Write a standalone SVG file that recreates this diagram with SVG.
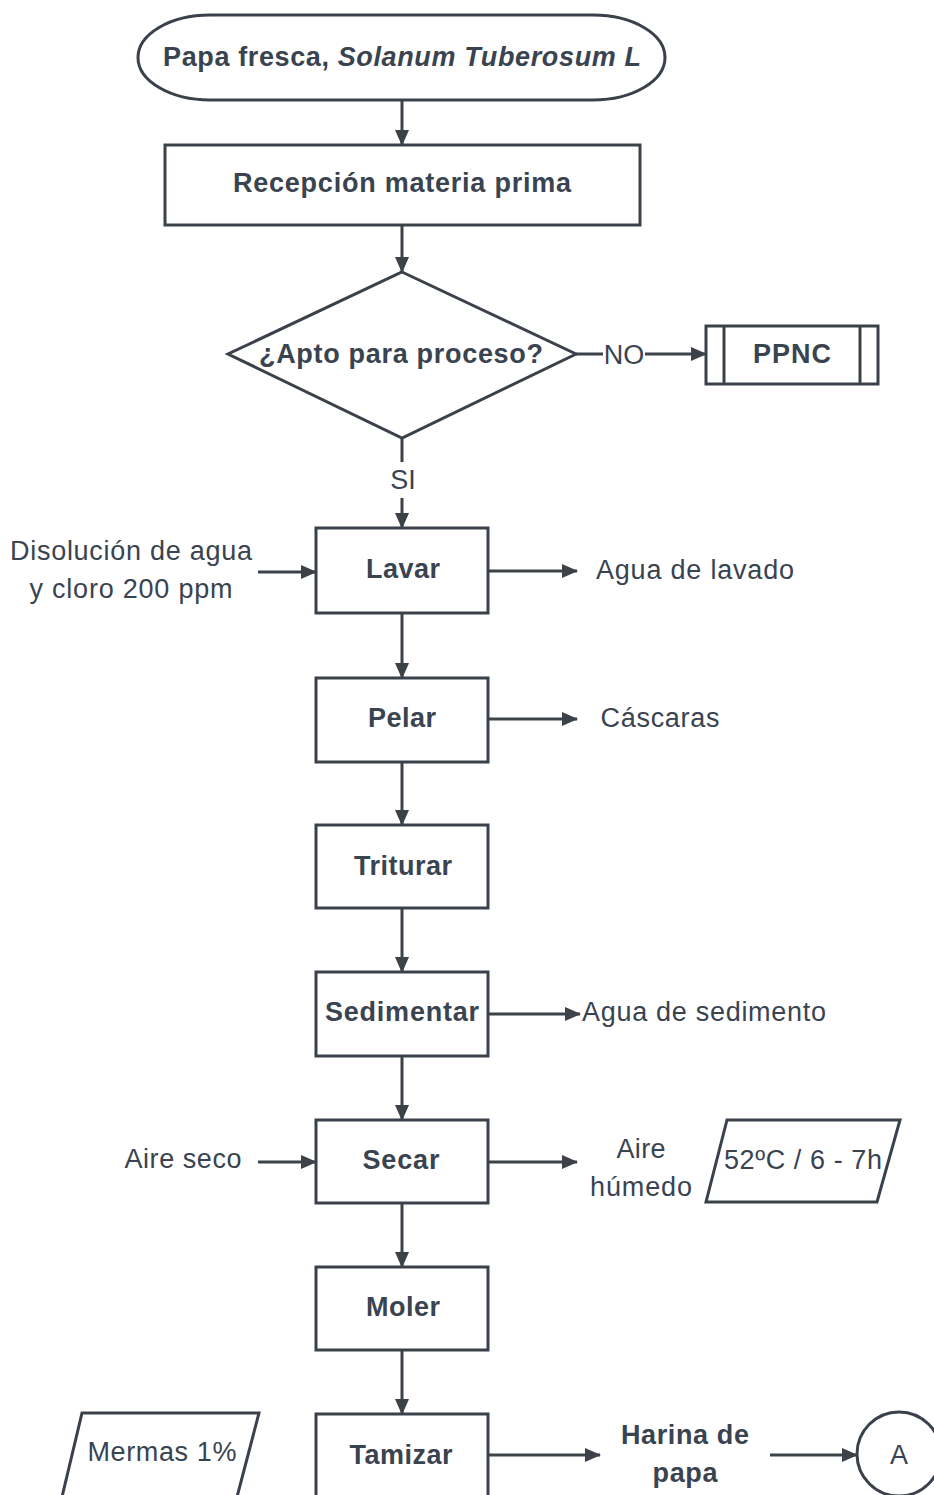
<svg xmlns="http://www.w3.org/2000/svg" width="934" height="1495" viewBox="0 0 934 1495">
<defs>
<marker id="ah" markerWidth="16" markerHeight="14" refX="15" refY="7" orient="auto" markerUnits="userSpaceOnUse">
<path d="M0,0 L16,7 L0,14 Z" fill="#3d4249"/>
</marker>
<style>
.s{fill:#fff;stroke:#3a414b;stroke-width:3}
.c{fill:none;stroke:#3d4249;stroke-width:3}
.a{marker-end:url(#ah)}
.b{font-family:"Liberation Sans",Arial,sans-serif;font-weight:bold;font-size:27px;fill:#3a4350;text-anchor:middle}
.r{font-family:"Liberation Sans",Arial,sans-serif;font-size:27px;fill:#3a4350;text-anchor:middle}
</style>
</defs>
<rect width="934" height="1495" fill="#fff"/>

<g id="connectors">
<line class="c a" x1="402" y1="100" x2="402" y2="145"/>
<line class="c a" x1="402" y1="225" x2="402" y2="272"/>
<line class="c" x1="576" y1="354" x2="603" y2="354"/>
<line class="c a" x1="645" y1="354" x2="706" y2="354"/>
<line class="c" x1="402" y1="438" x2="402" y2="462"/>
<line class="c a" x1="402" y1="498" x2="402" y2="528"/>
<line class="c a" x1="258" y1="572" x2="316" y2="572"/>
<line class="c a" x1="488" y1="571" x2="577" y2="571"/>
<line class="c a" x1="402" y1="613" x2="402" y2="678"/>
<line class="c a" x1="488" y1="719" x2="577" y2="719"/>
<line class="c a" x1="402" y1="762" x2="402" y2="825"/>
<line class="c a" x1="402" y1="908" x2="402" y2="972"/>
<line class="c a" x1="488" y1="1014" x2="580" y2="1014"/>
<line class="c a" x1="402" y1="1056" x2="402" y2="1120"/>
<line class="c a" x1="258" y1="1162" x2="316" y2="1162"/>
<line class="c a" x1="488" y1="1162" x2="577" y2="1162"/>
<line class="c a" x1="402" y1="1203" x2="402" y2="1267"/>
<line class="c a" x1="402" y1="1350" x2="402" y2="1414"/>
<line class="c a" x1="488" y1="1455" x2="600" y2="1455"/>
<line class="c a" x1="770" y1="1455" x2="857" y2="1455"/>
<text class="r" x="624" y="364">NO</text>
<text class="r" x="403" y="489">SI</text>
</g>

<g id="start">
<rect class="s" x="138" y="15" width="527" height="85" rx="72" ry="42.5"/>
<text class="b" x="402" y="66" textLength="478"><tspan>Papa fresca, </tspan><tspan font-style="italic">Solanum Tuberosum L</tspan></text>
</g>

<g id="recepcion">
<rect class="s" x="165" y="145" width="475" height="80"/>
<text class="b" x="402" y="192" textLength="338">Recepción materia prima</text>
</g>

<g id="decision">
<polygon class="s" points="402,272 576,354 402,438 228,354"/>
<text class="b" x="401" y="363" textLength="284">¿Apto para proceso?</text>
</g>

<g id="ppnc">
<rect class="s" x="706" y="326" width="172" height="58"/>
<line class="c" x1="724" y1="326" x2="724" y2="384"/>
<line class="c" x1="860" y1="326" x2="860" y2="384"/>
<text class="b" x="792" y="363" textLength="78">PPNC</text>
</g>

<g id="lavar">
<rect class="s" x="316" y="528" width="172" height="85"/>
<text class="b" x="403" y="578" textLength="74">Lavar</text>
<text class="r" x="131" y="560" textLength="242">Disolución de agua</text>
<text class="r" x="131" y="598" textLength="203">y cloro 200 ppm</text>
<text class="r" x="695" y="579" textLength="198">Agua de lavado</text>
</g>

<g id="pelar">
<rect class="s" x="316" y="678" width="172" height="84"/>
<text class="b" x="402" y="727" textLength="68">Pelar</text>
<text class="r" x="660" y="727" textLength="119">Cáscaras</text>
</g>

<g id="triturar">
<rect class="s" x="316" y="825" width="172" height="83"/>
<text class="b" x="403" y="875" textLength="98">Triturar</text>
</g>

<g id="sedimentar">
<rect class="s" x="316" y="972" width="172" height="84"/>
<text class="b" x="402" y="1021" textLength="154">Sedimentar</text>
<text class="r" x="704" y="1021" textLength="244">Agua de sedimento</text>
</g>

<g id="secar">
<rect class="s" x="316" y="1120" width="172" height="83"/>
<text class="b" x="401" y="1169" textLength="77">Secar</text>
<text class="r" x="183" y="1168" textLength="117">Aire seco</text>
<text class="r" x="641" y="1158" textLength="49">Aire</text>
<text class="r" x="641" y="1196" textLength="102">húmedo</text>
</g>

<g id="condiciones">
<polygon class="s" points="727,1120 900,1120 877,1202 706,1202"/>
<text class="r" x="803" y="1169" textLength="158">52ºC / 6 - 7h</text>
</g>

<g id="moler">
<rect class="s" x="316" y="1267" width="172" height="83"/>
<text class="b" x="403" y="1316" textLength="74">Moler</text>
</g>

<g id="tamizar">
<rect class="s" x="316" y="1414" width="172" height="95"/>
<text class="b" x="401" y="1464" textLength="103">Tamizar</text>
<text class="b" x="685" y="1444" textLength="128">Harina de</text>
<text class="b" x="685" y="1482" textLength="65">papa</text>
</g>

<g id="mermas">
<polygon class="s" points="82,1413 259,1413 237,1497 62,1497"/>
<text class="r" x="162" y="1461" textLength="149">Mermas 1%</text>
</g>

<g id="conector-a">
<circle class="s" cx="899" cy="1454" r="42"/>
<text class="r" x="899" y="1464">A</text>
</g>
</svg>
